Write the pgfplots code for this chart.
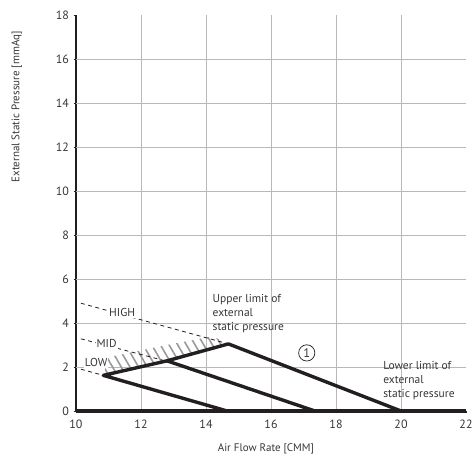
\documentclass[border=0pt]{standalone}
\usepackage{pgfplots}
\pgfplotsset{compat=1.18}
\usepackage{fontspec}
\setmainfont{PT Sans}
\usetikzlibrary{patterns.meta}
\definecolor{ink}{HTML}{231F20}
\definecolor{gridc}{HTML}{B8B8B8}
\begin{document}
\begin{tikzpicture}[font=\fontsize{11.5}{14}\selectfont]
\useasboundingbox (0,0) rectangle (474pt,457pt);
\begin{axis}[
  at={(76pt,46pt)}, anchor=south west,
  scale only axis, width=390pt, height=396pt,
  xmin=10, xmax=22, ymin=0, ymax=18,
  xtick={10,12,...,22}, ytick={0,2,...,18},
  axis lines=left,
  axis line style={line width=2.8pt, ink, -},
  tick style={ink, line width=0.8pt},
  tick align=outside, major tick length=2.5pt,
  grid=none,
  /pgf/number format/assume math mode=true,
  ticklabel style={font=\fontsize{12}{14}\selectfont, text=ink!90},
  xticklabel style={yshift=-3pt},
  yticklabel style={xshift=-1pt},
  xlabel={Air Flow Rate [CMM]},
  ylabel={External Static Pressure [mmAq]},
  label style={text=ink!90, font=\fontsize{11}{14}\selectfont},
  xlabel style={at={(axis description cs:0.487,-0.095)}, anchor=center},
  ylabel style={at={(axis description cs:-0.152,0.768)}, anchor=center},
  clip=false,
]
% grid lines
\addplot[gridc, line width=0.8pt, forget plot] table {
x y
12 0
12 18

14 0
14 18

16 0
16 18

18 0
18 18

20 0
20 18
};
\addplot[gridc, line width=0.8pt, forget plot] table {
x y
10 2
22 2

10 4
22 4

10 6
22 6

10 8
22 8

10 10
22 10

10 12
22 12

10 14
22 14

10 16
22 16
};
% hatched band
\addplot[draw=none, pattern={Lines[angle=120,distance=7.5pt,line width=1.6pt]}, pattern color=black!40] coordinates {
(10.84,1.62) (11.0,2.45) (12.8,3.0) (14.2,3.4) (14.69,3.05) (12.8,2.28) (10.84,1.62)
} --cycle;
% dashed lines
\addplot[ink, line width=0.8pt, dash pattern=on 4pt off 3.5pt] coordinates {(10.15,4.9) (14.69,3.05)};
\addplot[ink, line width=0.8pt, dash pattern=on 4pt off 3.5pt] coordinates {(10.15,3.28) (12.8,2.26)};
\addplot[ink, line width=0.8pt, dash pattern=on 4pt off 3.5pt] coordinates {(10.15,1.9) (10.84,1.62)};
% thick lines
\addplot[ink, line width=3.4pt, line join=round, line cap=round] coordinates {(14.65,0) (10.84,1.62) (12.8,2.28) (14.69,3.05) (20,0)};
\addplot[ink, line width=3.4pt, line cap=round] coordinates {(12.8,2.28) (17.35,0)};
\addplot[ink, line width=3.2pt] coordinates {(10,0) (22,0)};
% labels
\node[fill=white, inner sep=1pt, text=ink!90] at (axis cs:11.42,4.47) {HIGH};
\node[fill=white, inner sep=1pt, text=ink!90] at (axis cs:10.94,3.06) {MID};
\node[fill=white, inner sep=1pt, text=ink!90] at (axis cs:10.62,2.2) {LOW};
\node[align=left, anchor=north west, inner sep=0pt, text=ink!90] at (axis cs:14.2,5.3) {Upper limit of\\external\\static pressure};
\node[align=left, anchor=north west, inner sep=0pt, text=ink!90] at (axis cs:19.45,2.27) {Lower limit of\\external\\static pressure};
\node[circle, draw=ink, line width=0.7pt, inner sep=1.8pt, text=ink!90, font=\fontsize{12.5}{14}\selectfont] at (axis cs:17.1,2.64) {1};
\end{axis}
\end{tikzpicture}
\end{document}
